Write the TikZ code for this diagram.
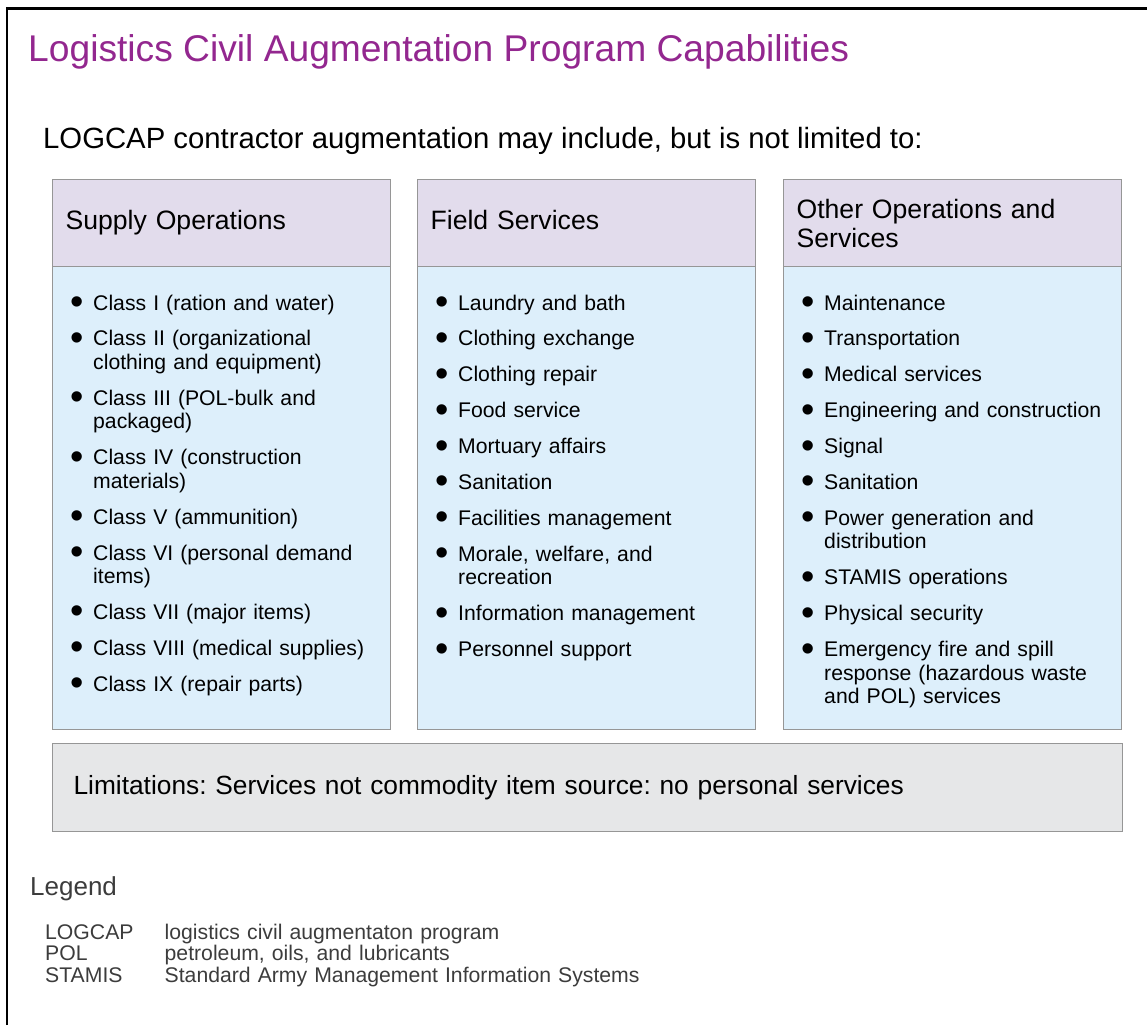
\documentclass[tikz,border=0pt]{standalone}
\usepackage{fontspec}
\setmainfont{Liberation Sans}
\usetikzlibrary{positioning}
\frenchspacing

\definecolor{titlepurple}{RGB}{147,39,143}
\definecolor{headfill}{RGB}{226,220,236}
\definecolor{bodyfill}{RGB}{221,239,251}
\definecolor{limitfill}{RGB}{230,231,232}
\definecolor{boxline}{RGB}{150,150,150}
\definecolor{legendgray}{RGB}{60,60,60}

% bullet and hanging indent for the lists
\newcommand{\bul}{\makebox[23pt][l]{\fontsize{38}{23.5}\selectfont\raisebox{-4.4pt}{\textbullet}}}
\newcommand{\hang}{\hspace*{23pt}}

\tikzset{
  headbox/.style={draw=boxline, fill=headfill, line width=1.2pt, anchor=north west,
    minimum width=338pt, minimum height=87pt, text width=312pt, inner xsep=13pt,
    align=left, font=\fontsize{26.6}{29}\selectfont,
    execute at begin node=\vphantom{Sy}},
  bodybox/.style={draw=boxline, fill=bodyfill, line width=1.2pt, anchor=north west,
    minimum width=338pt, minimum height=463pt, inner sep=0pt},
  listtext/.style={anchor=base west, inner sep=0pt, text width=310pt, align=left,
    font=\fontsize{21.2}{23.5}\selectfont},
  limitbox/.style={draw=boxline, fill=limitfill, line width=1.2pt, anchor=north west,
    minimum width=1070pt, minimum height=88pt, text width=1028pt, inner xsep=21pt,
    align=left, font=\fontsize{26.3}{29}\selectfont},
  legendtext/.style={anchor=base west, inner sep=0pt, text width=500pt, align=left,
    text=legendgray, font=\fontsize{21.2}{21.8}\selectfont}
}

\begin{document}
\begin{tikzpicture}[x=1pt, y=-1pt]
  \useasboundingbox (0,0) rectangle (1147,1025);
  \draw[line width=2.5pt] (7,1025) -- (7,8.7) -- (1147,8.7);

  \node[anchor=base west, inner sep=0pt, text=titlepurple, font=\fontsize{37.2}{40}\selectfont]
    (title) at (28,61) {Logistics Civil Augmentation Program Capabilities};
  \node[anchor=base west, inner sep=0pt, font=\fontsize{29.3}{32}\selectfont]
    (intro) at (43,148) {LOGCAP contractor augmentation may include, but is not limited to:};

  % columns
  \node[bodybox] (supplybody) at (52,266) {};
  \node[bodybox] (fieldbody) at (417,266) {};
  \node[bodybox] (otherbody) at (783,266) {};
  \node[headbox] (supplyhead) at (52,179) {Supply Operations};
  \node[headbox] (fieldhead) at (417,179) {Field Services};
  \node[headbox] (otherhead) at (783,179) {Other Operations and\\Services};

  \node[listtext] (supplylist) at (70,310) {%
    \bul Class I (ration and water)\\[12.4pt]
    \bul Class II (organizational\\
    \hang clothing and equipment)\\[12.4pt]
    \bul Class III (POL-bulk and\\
    \hang packaged)\\[12.4pt]
    \bul Class IV (construction\\
    \hang materials)\\[12.4pt]
    \bul Class V (ammunition)\\[12.4pt]
    \bul Class VI (personal demand\\
    \hang items)\\[12.4pt]
    \bul Class VII (major items)\\[12.4pt]
    \bul Class VIII (medical supplies)\\[12.4pt]
    \bul Class IX (repair parts)};

  \node[listtext] (fieldlist) at (435,310) {%
    \bul Laundry and bath\\[12.4pt]
    \bul Clothing exchange\\[12.4pt]
    \bul Clothing repair\\[12.4pt]
    \bul Food service\\[12.4pt]
    \bul Mortuary affairs\\[12.4pt]
    \bul Sanitation\\[12.4pt]
    \bul Facilities management\\[12.4pt]
    \bul Morale, welfare, and\\
    \hang recreation\\[12.4pt]
    \bul Information management\\[12.4pt]
    \bul Personnel support};

  \node[listtext] (otherlist) at (801,310) {%
    \bul Maintenance\\[12.4pt]
    \bul Transportation\\[12.4pt]
    \bul Medical services\\[12.4pt]
    \bul Engineering and construction\\[12.4pt]
    \bul Signal\\[12.4pt]
    \bul Sanitation\\[12.4pt]
    \bul Power generation and\\
    \hang distribution\\[12.4pt]
    \bul STAMIS operations\\[12.4pt]
    \bul Physical security\\[12.4pt]
    \bul Emergency fire and spill\\
    \hang response (hazardous waste\\
    \hang and POL) services};

  \node[limitbox] (limits) at (52,743) {Limitations: Services not commodity item source: no personal services};

  % legend
  \node[anchor=base west, inner sep=0pt, text=legendgray, font=\fontsize{26}{29}\selectfont]
    (legend) at (30,895) {Legend};
  \node[legendtext] (abbr) at (45,939) {LOGCAP\\POL\\STAMIS};
  \node[legendtext] (defs) at (164.5,939) {logistics civil augmentaton program\\petroleum, oils, and lubricants\\Standard Army Management Information Systems};
\end{tikzpicture}
\end{document}
